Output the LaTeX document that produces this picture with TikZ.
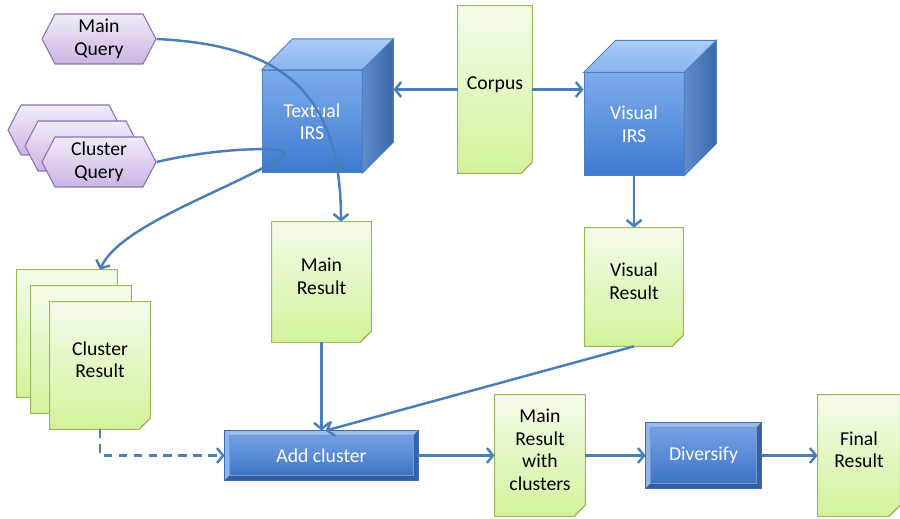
\documentclass[tikz,border=0pt]{standalone}
\usepackage{fontspec}
\setmainfont{Carlito}
\usetikzlibrary{shapes,arrows.meta,positioning,calc,backgrounds}

\definecolor{flowblue}{HTML}{4A7EBB}
\definecolor{hexTop}{HTML}{F1EBF8}
\definecolor{hexBot}{HTML}{C9B5E3}
\definecolor{hexLine}{HTML}{8A70B0}
\definecolor{docTop}{HTML}{F4FCEB}
\definecolor{docBot}{HTML}{D3F29B}
\definecolor{docLine}{HTML}{9BBB59}
\definecolor{docFold}{HTML}{B3D377}
\definecolor{cubeTop}{HTML}{7DABEC}
\definecolor{cubeBot}{HTML}{3D7BD0}
\definecolor{cubeLid1}{HTML}{AACCF8}
\definecolor{cubeLid2}{HTML}{8AB4EE}
\definecolor{cubeSide1}{HTML}{5F8CCD}
\definecolor{cubeSide2}{HTML}{3A68AA}
\definecolor{cubeLine}{HTML}{4F7FC0}
\definecolor{bevTop}{HTML}{78A5E8}
\definecolor{bevBot}{HTML}{3A70C2}
\definecolor{bevLight}{HTML}{98BCF0}
\definecolor{bevDark}{HTML}{345E9F}
\definecolor{bevLine}{HTML}{3C6CB0}

% folded paper outline behind a node
\newcommand\docshape[1]{%
  \shade[top color=docTop, bottom color=docBot, draw=docLine, line width=0.6pt]
    (#1.north west) -- (#1.north east) -- ($(#1.south east)+(0,-11)$)
    -- ($(#1.south east)+(-11,0)$) -- (#1.south west) -- cycle;
  \fill[docFold, draw=docLine, line width=0.4pt]
    ($(#1.south east)+(0,-11)$) -- ($(#1.south east)+(-11,0)$) -- ($(#1.south east)+(-8,-4)$) -- cycle;}

% lid and side of a cube
\newcommand\cubefaces[2]{%
  \shade[top color=cubeLid1, bottom color=cubeLid2, draw=cubeLine, line width=0.5pt]
    (#1.north west) -- ++(#2,-#2) -- ($(#1.north east)+(#2,-#2)$) -- (#1.north east) -- cycle;
  \shade[left color=cubeSide1, right color=cubeSide2, draw=cubeLine, line width=0.5pt]
    (#1.north east) -- ($(#1.north east)+(#2,-#2)$) -- ($(#1.south east)+(#2,-#2)$) -- (#1.south east) -- cycle;}

% bevel edges of a box
\newcommand\bevel[1]{%
  \fill[bevLight] (#1.north west) -- (#1.north east) -- ($(#1.north east)+(-5,5)$) -- ($(#1.north west)+(5,5)$) -- cycle;
  \fill[bevLight!70!bevTop] (#1.north west) -- (#1.south west) -- ($(#1.south west)+(5,-5)$) -- ($(#1.north west)+(5,5)$) -- cycle;
  \fill[bevDark] (#1.south west) -- (#1.south east) -- ($(#1.south east)+(-5,-5)$) -- ($(#1.south west)+(5,-5)$) -- cycle;
  \fill[bevDark!80!bevBot] (#1.north east) -- (#1.south east) -- ($(#1.south east)+(-5,-5)$) -- ($(#1.north east)+(-5,5)$) -- cycle;
  \draw[bevLine, line width=0.5pt] (#1.north west) rectangle (#1.south east);
  \draw[bevLine!70!white, line width=0.4pt] ($(#1.north west)+(5,5)$) rectangle ($(#1.south east)+(-5,-5)$);}

\begin{document}
\begin{tikzpicture}[x=0.02cm, y=-0.02cm,
  font=\fontsize{11.2}{12.8}\selectfont,
  hexq/.style={signal, signal to=east and west, signal pointer angle=125,
               minimum width=2.28cm, minimum height=1cm, inner sep=0pt,
               align=center, top color=hexTop, bottom color=hexBot,
               draw=hexLine, line width=0.6pt},
  doc/.style={rectangle, inner sep=0pt, align=center, text depth=6.8pt},
  cube/.style={rectangle, top color=cubeTop, bottom color=cubeBot,
               draw=cubeLine, line width=0.5pt, text=white, align=center,
               minimum width=2cm, minimum height=2.05cm},
  box/.style={rectangle, top color=bevTop, bottom color=bevBot,
              text=white, inner sep=0pt},
  flow/.style={draw=flowblue, line width=1.4pt,
               -{Straight Barb[length=3.5pt,width=8.5pt]}}
]
\useasboundingbox (0,0) rectangle (900,519);

% queries
\node[hexq] (mainq) at (99,39) {Main\\Query};
\node[hexq] (clq3) at (65,130) {};
\node[hexq] (clq2) at (82,146) {};
\node[hexq] (clq) at (99,162) {Cluster\\Query};

% retrieval systems
\node[cube] (txt) at (312,121.5) {Textual\\IRS};
\node[cube] (vis) at (634,124) {Visual\\IRS};
\cubefaces{txt}{31}
\cubefaces{vis}{32}

% documents
\node[doc, minimum width=1.48cm, minimum height=3.34cm] (corpus) at (495,89.5) {Corpus};
\node[doc, minimum width=1.98cm, minimum height=2.4cm] (mres) at (321.5,282) {Main\\Result};
\node[doc, minimum width=1.96cm, minimum height=2.36cm] (vres) at (634,287) {Visual\\Result};
\node[doc, minimum width=2cm, minimum height=2.54cm] (clr3) at (67,333.5) {};
\node[doc, minimum width=2cm, minimum height=2.54cm] (clr2) at (81,349.5) {};
\node[doc, minimum width=2cm, minimum height=2.54cm] (clr) at (100,365.5) {Cluster\\Result};
\node[doc, minimum width=1.8cm, minimum height=2.42cm] (mrwc) at (540,455.5) {Main\\Result\\with\\clusters};
\node[doc, minimum width=1.64cm, minimum height=2.42cm] (final) at (859,455.5) {Final\\Result};

\begin{scope}[on background layer]
\foreach \d in {corpus,mres,vres,clr3,clr2,clr,mrwc,final}
  {\docshape{\d}}
\end{scope}

% processing steps
\node[box, minimum width=3.86cm, minimum height=0.98cm] (addc) at (321.5,455.5) {Add cluster};
\node[box, minimum width=2.3cm, minimum height=1.3cm] (div) at (703.5,455.5) {Diversify};
\bevel{addc}
\bevel{div}

% connections
\draw[flow] (corpus.west) -- ($(txt.east)+(31,-32)$);
\draw[flow] (corpus.east) -- (vis.west |- corpus.east);
\draw[flow] (mainq.east) .. controls (280,45) and (341,90) .. ($(mres.north)+(19.5,0)$);
\draw[flow] (clq.east) .. controls (220,147) and (300,145) .. (282,157)
  .. controls (230,190) and (120,225) .. ($(clr3.north)+(33,0)$);
\draw[flow] (vis.south) -- (vres.north);
\draw[flow] (mres.south) -- (addc.north);
\draw[flow] (vres.south) -- ($(addc.north)+(4,0)$);
\draw[flow, dash pattern=on 5pt off 3.5pt] (clr.south) |- (addc.west);
\draw[flow] (addc) -- (mrwc);
\draw[flow] (mrwc) -- (div);
\draw[flow] (div) -- (final);

\end{tikzpicture}
\end{document}
